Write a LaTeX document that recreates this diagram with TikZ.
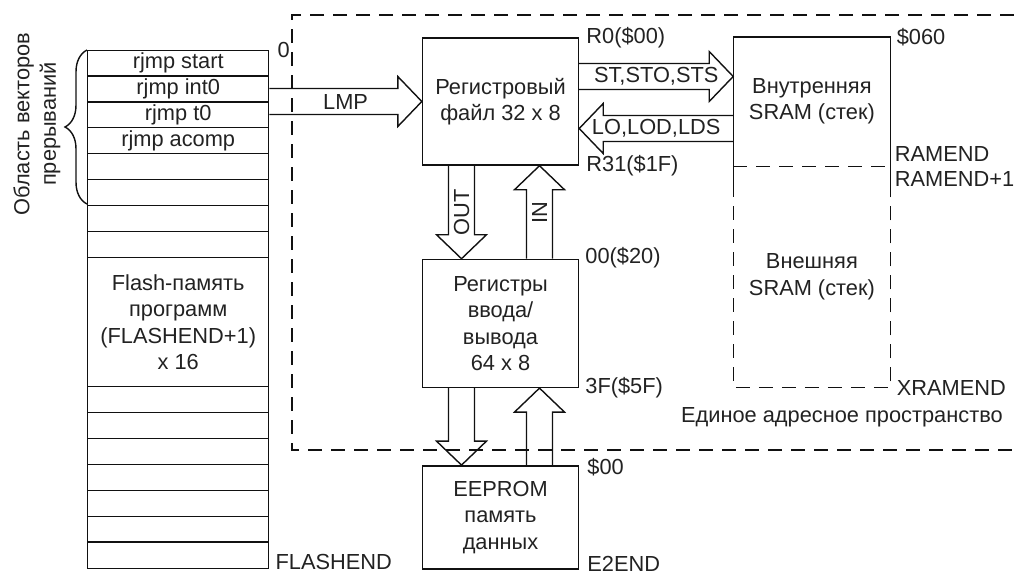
\documentclass[tikz,border=0pt]{standalone}
\usepackage{fontspec}
\setmainfont{Liberation Sans}
\usepackage{tikz}
\usetikzlibrary{positioning, calc, decorations.pathreplacing}
\definecolor{darktext}{HTML}{222222}
\definecolor{lines}{HTML}{111111}
\newcommand{\widearrow}[2]{%
  \draw[arr] let \p1=(#1), \p2=(#2), \n1={veclen(\x2-\x1,\y2-\y1)}, \n2={atan2(\y2-\y1,\x2-\x1)} in
    [shift={(\p1)}, rotate=\n2] (0pt,13pt) -- (\n1-24pt,13pt) -- (\n1-24pt,25pt) -- (\n1,0pt)
    -- (\n1-24pt,-25pt) -- (\n1-24pt,-13pt) -- (0pt,-13pt);}

\begin{document}
\begin{tikzpicture}[x=1pt, y=-1pt,
    box/.style={draw=lines, line width=1.4pt, text=darktext, font=\fontsize{21.8}{26.5}\selectfont, align=center, minimum width=156pt, inner sep=0pt},
    lbl/.style={text=darktext, font=\fontsize{21.8}{26.5}\selectfont, inner sep=0pt, align=center},
    arr/.style={draw=lines, line width=1.4pt, line join=miter},
    dashline/.style={draw=lines, line width=1.4pt, dash pattern=on 14pt off 9pt}
]
    \useasboundingbox (0,0) rectangle (1014,574);

    \draw[dashline] (1014,15) -- (292,15) -- (292,450) -- (1014,450);

    \node[box, minimum width=181pt, minimum height=518pt, anchor=north west] (flash) at (87,50) {};
    \foreach \k in {1,2,3,4,5,6,7,8,13,14,15,16,17,18,19}
        \draw[arr] ($(flash.north west)+(0,\k*25.9)$) -- ($(flash.north east)+(0,\k*25.9)$);
    \foreach \txt [count=\i] in {rjmp start, rjmp int0, rjmp t0, rjmp acomp}
        \node[lbl] (row\i) at ($(flash.north)+(0,\i*25.9-12.95)$) {\txt};
    \node[lbl] (flashtxt) at ($(flash.north)+(0,272)$) {Flash-память\\программ\\(FLASHEND+1)\\x 16};
    \node[lbl, anchor=west] (zero) at ([xshift=8pt]flash.north east) {0};
    \node[lbl, anchor=west] (flashend) at ([xshift=6pt, yshift=7pt]flash.south east) {FLASHEND};

    \draw[arr, decorate, decoration={brace, amplitude=22pt}] ($(flash.north west)+(0,154)$) -- (flash.north west);
    \node[lbl, rotate=90] (vectors) at (37,124) {Область векторов\\прерываний};

    \node[box, minimum height=127pt] (regfile) at (500.5,101.5) {Регистровый\\файл 32 x 8};
    \node[box, minimum height=128pt, below=93pt of regfile] (io) {Регистры\\ввода/\\вывода\\64 x 8};
    \node[box, minimum height=103pt, below=77pt of io] (eeprom) {EEPROM\\память\\данных};
    \node[box, draw=none, minimum height=128pt, right=154pt of regfile] (sramin) {Внутренняя\\SRAM (стек)};
    \node[box, draw=none, minimum height=220pt, below=0pt of sramin] (sramex) {Внешняя\\SRAM (стек)};

    \draw[arr] ([yshift=-17pt]sramin.south west) -- (sramin.north west) -- (sramin.north east) -- ([yshift=-17pt]sramin.south east);
    \draw[dashline] (sramin.south west) -- (sramin.south east);
    \draw[dashline] ([yshift=-17pt]sramin.south west) -- (sramex.south west) -- (sramex.south east) -- ([yshift=-17pt]sramin.south east);

    \node[lbl, anchor=west] (r0) at ([xshift=7pt]regfile.north east) {R0(\$00)};
    \node[lbl, anchor=west] (r31) at ([xshift=7pt]regfile.south east) {R31(\$1F)};
    \node[lbl, anchor=west] (io0) at ([xshift=6pt, yshift=1pt]io.north east) {00(\$20)};
    \node[lbl, anchor=west] (io3f) at ([xshift=6pt]io.south east) {3F(\$5F)};
    \node[lbl, anchor=west] (ee0) at ([xshift=8pt, yshift=-2pt]eeprom.north east) {\$00};
    \node[lbl, anchor=west] (e2end) at ([xshift=8pt, yshift=6pt]eeprom.south east) {E2END};
    \node[lbl, anchor=west] (s060) at ([xshift=6pt]sramin.north east) {\$060};
    \node[lbl, anchor=west] (ramend) at ([xshift=4pt, yshift=12pt]sramin.south east) {RAMEND};
    \node[lbl, anchor=west] (ramend1) at ([xshift=4pt, yshift=-13pt]sramin.south east) {RAMEND+1};
    \node[lbl, anchor=west] (xramend) at ([xshift=6pt]sramex.south east) {XRAMEND};
    \node[lbl, anchor=east] (space) at (1003,417) {Единое адресное пространство};

    \coordinate (lmpa) at (flash.east |- regfile.west);
    \widearrow{lmpa}{regfile.west}
    \node[lbl] (lmp) at ($(lmpa)!0.5!(regfile.west)$) {LMP};

    \coordinate (sta) at ([yshift=25pt]regfile.east);
    \coordinate (stb) at ([yshift=25pt]sramin.west);
    \widearrow{sta}{stb}
    \node[lbl] (st) at ($(sta)!0.5!(stb)$) {ST,STO,STS};

    \coordinate (lda) at ([yshift=-27pt]sramin.west);
    \coordinate (ldb) at ([yshift=-27pt]regfile.east);
    \widearrow{lda}{ldb}
    \node[lbl] (ld) at ($(lda)!0.5!(ldb)$) {LO,LOD,LDS};

    \coordinate (outa) at ([xshift=-39pt]regfile.south);
    \coordinate (outb) at ([xshift=-39pt]io.north);
    \widearrow{outa}{outb}
    \node[lbl, rotate=90] (out) at ($(outa)!0.5!(outb)$) {OUT};

    \coordinate (ina) at ([xshift=39pt]io.north);
    \coordinate (inb) at ([xshift=39pt]regfile.south);
    \widearrow{ina}{inb}
    \node[lbl, rotate=90] (in) at ($(ina)!0.5!(inb)$) {IN};

    \coordinate (eea) at ([xshift=-39pt]io.south);
    \coordinate (eeb) at ([xshift=-39pt]eeprom.north);
    \widearrow{eea}{eeb}
    \coordinate (eec) at ([xshift=39pt]eeprom.north);
    \coordinate (eed) at ([xshift=39pt]io.south);
    \widearrow{eec}{eed}
\end{tikzpicture}
\end{document}
